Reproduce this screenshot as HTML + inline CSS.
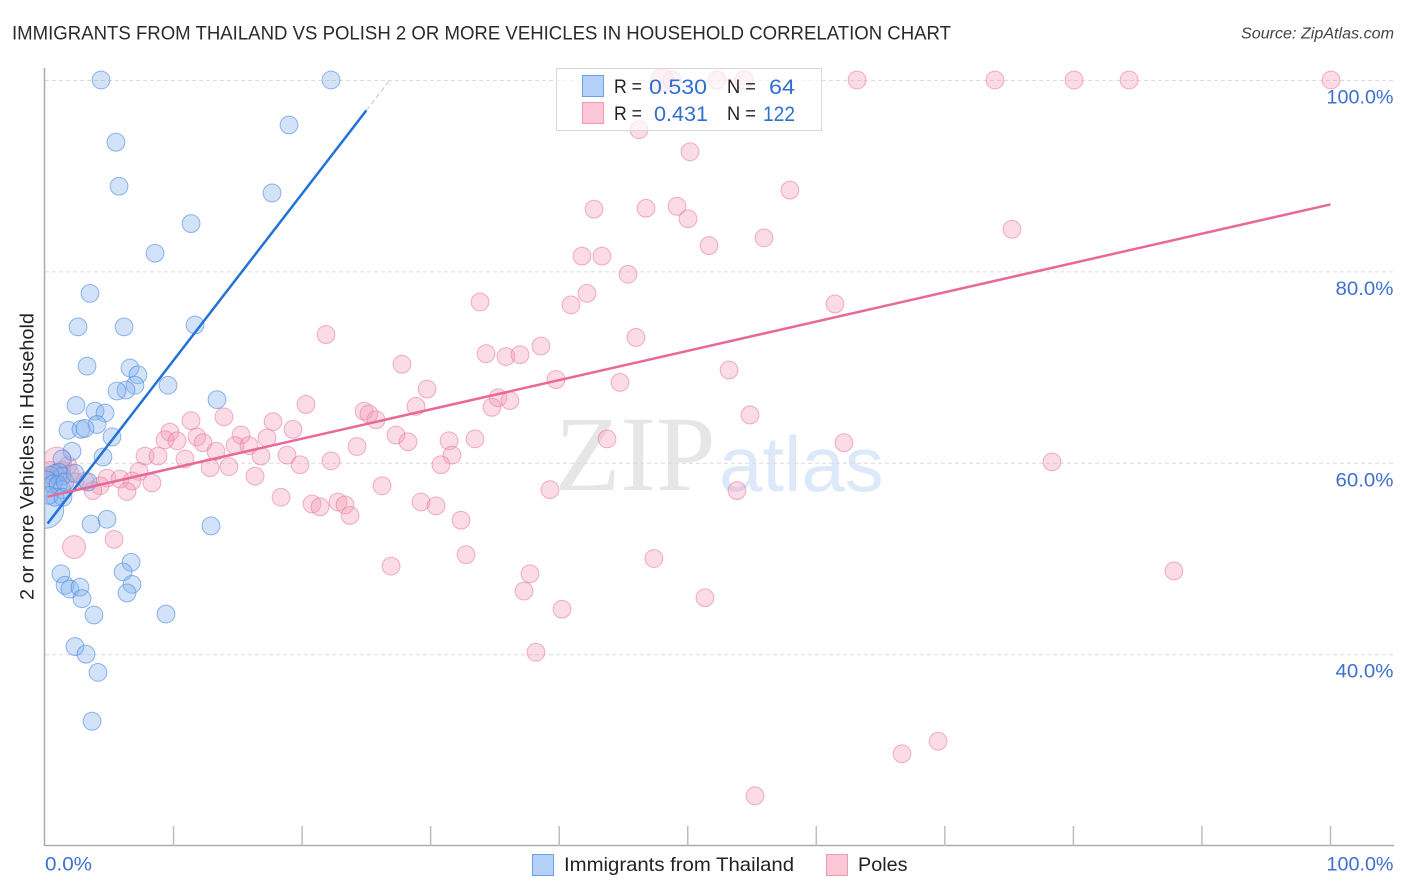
<!DOCTYPE html>
<html lang="en">
<head>
<meta charset="utf-8">
<title>Immigrants from Thailand vs Polish 2 or more Vehicles in Household Correlation Chart</title>
<style>
html,body{margin:0;padding:0;background:#fff;width:1406px;height:892px;overflow:hidden}
svg{display:block;font-family:"Liberation Sans",sans-serif}
.tick-label{fill:#3f6fd1;font-size:19px}
.legend-text{fill:#222;font-size:19px}
.legend-val{fill:#2f6fd0;font-size:21.5px}
</style>
</head>
<body>
<svg id="chart" width="1406" height="892" viewBox="0 0 1406 892" xmlns="http://www.w3.org/2000/svg">
  <defs>
    <clipPath id="plot-clip"><rect x="45" y="60" width="1360" height="786"></rect></clipPath>
  </defs>
  <text x="12" y="39.5" font-size="19.6" fill="#2a2a2a" textLength="939" lengthAdjust="spacingAndGlyphs">IMMIGRANTS FROM THAILAND VS POLISH 2 OR MORE VEHICLES IN HOUSEHOLD CORRELATION CHART</text>
  <text x="1394" y="38.5" font-size="15.5" font-style="italic" fill="#444" text-anchor="end" textLength="153" lengthAdjust="spacingAndGlyphs">Source: ZipAtlas.com</text>
  <g>
    <text x="555" y="490" font-family="'Liberation Serif',serif" font-size="107" fill="#e6e6e6">ZIP</text>
    <text x="719" y="491" font-size="78" fill="#dde9f9">atlas</text>
  </g>
  <g id="grid"></g>
  <g id="axes"></g>
  <g id="pink-points" clip-path="url(#plot-clip)"></g>
  <g id="blue-points" clip-path="url(#plot-clip)"></g>
  <g id="trend-lines"></g>
  <text transform="translate(33.5,456.5) rotate(-90)" text-anchor="middle" font-size="19" fill="#222" textLength="287" lengthAdjust="spacingAndGlyphs">2 or more Vehicles in Household</text>
  <g id="tick-labels"></g>
  <g>
    <rect x="556.5" y="68.5" width="265" height="62" fill="#fff" fill-opacity="0.68" stroke="#d8d8d8" stroke-width="1"></rect>
    <rect x="582.5" y="75.5" width="21" height="21" fill="#b5d0f6" stroke="#6ea0e6" stroke-width="1"></rect>
    <rect x="582.5" y="102.5" width="21" height="21" fill="#fbc6d6" stroke="#f09ab6" stroke-width="1"></rect>
    <text class="legend-text" x="614" y="93" textLength="28" lengthAdjust="spacingAndGlyphs">R =</text>
    <text class="legend-val" x="649" y="94" textLength="58" lengthAdjust="spacingAndGlyphs">0.530</text>
    <text class="legend-text" x="727" y="93" textLength="29" lengthAdjust="spacingAndGlyphs">N =</text>
    <text class="legend-val" x="769" y="94" textLength="26" lengthAdjust="spacingAndGlyphs">64</text>
    <text class="legend-text" x="614" y="120" textLength="28" lengthAdjust="spacingAndGlyphs">R =</text>
    <text class="legend-val" x="654" y="121" textLength="54" lengthAdjust="spacingAndGlyphs">0.431</text>
    <text class="legend-text" x="727" y="120" textLength="29" lengthAdjust="spacingAndGlyphs">N =</text>
    <text class="legend-val" x="763" y="121" textLength="32" lengthAdjust="spacingAndGlyphs">122</text>
  </g>
  <g>
    <rect x="532.5" y="854.5" width="21" height="21" fill="#b5d0f6" stroke="#6ea0e6" stroke-width="1"></rect>
    <text x="564" y="871" font-size="19.8" fill="#222" textLength="230" lengthAdjust="spacingAndGlyphs">Immigrants from Thailand</text>
    <rect x="826.5" y="854.5" width="21" height="21" fill="#fbc6d6" stroke="#f09ab6" stroke-width="1"></rect>
    <text x="858" y="871" font-size="19.8" fill="#222">Poles</text>
  </g>
</svg>
<script>
// ---- chart data (percent values) ----
const blueX = [4.36,22.25,18.98,5.52,5.76,17.66,11.36,8.56,3.5,2.57,6.15,11.67,3.27,6.61,7.23,7.0,6.3,5.6,9.57,13.38,2.41,3.89,4.67,4.05,1.79,2.8,3.11,5.21,2.1,4.51,1.32,3.58,4.82,12.91,6.69,6.07,1.24,1.56,1.94,2.72,6.77,6.38,2.88,3.81,9.41,2.33,3.19,4.12,3.66,0.0,0.78,1.09,1.32,0.39,0.16,0.62,1.01,1.32,0.78,1.56,3.35,0.31,1.4,2.33];
const blueY = [100,100,95.3,93.5,88.9,88.2,85.0,81.9,77.7,74.2,74.2,74.4,70.1,69.9,69.2,68.1,67.6,67.5,68.1,66.6,66.0,65.4,65.2,64.0,63.4,63.5,63.6,62.7,61.2,60.6,60.4,53.6,54.1,53.4,49.6,48.6,48.4,47.2,46.8,47.0,47.3,46.4,45.8,44.1,44.2,40.8,40.0,38.1,33.0,55.1,58.9,59.0,58.6,58.7,58.2,57.8,57.7,57.2,56.4,58.0,58.0,56.6,56.4,58.9];
const blueWeight = [1,1,1,1,1,1,1,1,1,1,1,1,1,1,1,1,1,1,1,1,1,1,1,1,1,1,1,1,1,1,1,1,1,1,1,1,1,1,1,1,1,1,1,1,1,1,1,1,1,4.4,1,1,1,1,1,1,1,1,1,1,1,1,1,1];
const pinkX = [48.0,48.77,52.27,54.38,63.17,73.9,80.05,84.33,100.04,46.21,50.18,57.95,42.71,46.75,49.16,50.02,75.22,55.93,51.65,41.77,43.33,45.35,42.16,40.92,33.84,61.45,21.86,45.97,38.58,34.31,35.86,36.95,27.77,53.21,39.75,44.73,29.72,35.24,36.17,34.77,28.86,20.3,13.92,11.36,24.82,25.2,25.75,54.84,9.72,9.33,19.29,17.74,27.3,28.24,33.45,31.43,43.72,62.15,11.82,12.29,10.27,15.25,14.78,17.27,15.87,13.3,7.78,8.79,10.89,16.8,18.83,22.25,19.84,24.27,31.66,30.8,78.33,7.31,12.84,14.31,16.34,4.82,5.83,6.77,4.28,3.11,3.73,6.38,8.32,26.22,18.36,39.28,53.83,20.77,21.39,22.79,23.34,23.73,29.25,30.42,32.36,5.37,2.26,32.75,47.37,26.92,87.82,37.73,37.26,40.22,51.34,38.19,69.47,66.67,55.23,0.93,0.39,1.32,1.94,0.78,0.23,2.33,1.79];
const pinkY = [100,100,100,100,100,100,100,100,100,94.8,92.5,88.5,86.5,86.6,86.8,85.5,84.4,83.5,82.7,81.6,81.6,79.7,77.7,76.5,76.8,76.6,73.4,73.1,72.2,71.4,71.1,71.3,70.3,69.7,68.7,68.4,67.7,66.8,66.5,65.8,65.9,66.1,64.8,64.4,65.4,65.1,64.5,65.0,63.2,62.4,63.5,64.3,62.9,62.2,62.5,62.3,62.5,62.1,62.7,62.1,62.3,62.9,61.8,62.6,61.8,61.2,60.7,60.7,60.4,60.7,60.8,60.2,59.8,61.7,60.8,59.8,60.1,59.1,59.5,59.6,58.6,58.4,58.3,58.1,57.6,58.1,57.1,57.0,57.9,57.6,56.4,57.2,57.1,55.7,55.4,55.9,55.6,54.5,55.9,55.5,54.0,52.0,51.2,50.4,50.0,49.2,48.7,48.4,46.6,44.7,45.9,40.2,30.9,29.6,25.2,60.1,59.2,59.2,58.9,58.2,58.4,58.0,59.7];
const pinkWeight = [1.6,1,1,1,1,1,1,1,1,1,1,1,1,1,1,1,1,1,1,1,1,1,1,1,1,1,1,1,1,1,1,1,1,1,1,1,1,1,1,1,1,1,1,1,1,1,1,1,1,1,1,1,1,1,1,1,1,1,1,1,1,1,1,1,1,1,1,1,1,1,1,1,1,1,1,1,1,1,1,1,1,1,1,1,1,1,1,1,1,1,1,1,1,1,1,1,1,1,1,1,1,1,1.65,1,1,1,1,1,1,1,1,1,1,1,1,2.7,1,1,1,1,1,1,1];
const blueTrendIntercept = 53.3;
const blueTrendSlope = 1.741;
const blueTrendSolidEnd = 25;
const blueTrendDashEnd = 26.85;
const pinkTrendIntercept = 56.4;
const pinkTrendSlope = 0.306;
const yTicks = [100,80,60,40];
const xTicks = [0,10,20,30,40,50,60,70,80,90,100];
const yTickLabels = ["100.0%","80.0%","60.0%","40.0%"];
const xEdgeTicks = [0,100];
const xEdgeLabels = ["0.0%","100.0%"];

// ---- axis functions ----
function xScale(v){ return 45 + v * 12.855; }
function yScale(v){ return 80 + (100 - v) * 9.57; }

const NS = 'http://www.w3.org/2000/svg';
function make(tag, attrs, parent){
  const el = document.createElementNS(NS, tag);
  for (const k in attrs) el.setAttribute(k, attrs[k]);
  parent.appendChild(el);
  return el;
}

// gridlines
const gridG = document.getElementById('grid');
yTicks.forEach(function(t){
  const line = make('line',{x1:45,x2:1394,y1:yScale(t)+0.5,y2:yScale(t)+0.5,stroke:'#dcdcdc','stroke-width':1,'stroke-dasharray':'4 3'},gridG);
  
  
});

// axes
const axesG = document.getElementById('axes');
const yAxisLine = make('line',{x1:44.5,x2:44.5,y1:68,y2:846,stroke:'#aaaaaa','stroke-width':1.5},axesG);


const xAxisLine = make('line',{x1:44,x2:1394,y1:845.5,y2:845.5,stroke:'#aaaaaa','stroke-width':1.5},axesG);


xTicks.slice(1).forEach(function(t){
  const tick = make('line',{x1:xScale(t),x2:xScale(t),y1:826,y2:846,stroke:'#bdbdbd','stroke-width':1.5},axesG);
  
  
});

// points
const pinkG = document.getElementById('pink-points');
pinkX.forEach(function(v,i){
  const c = make('circle',{cx:xScale(v),cy:yScale(pinkY[i]),r:8.9*Math.sqrt(pinkWeight[i]),fill:'#f49ab6','fill-opacity':0.36,stroke:'#e67f9f','stroke-opacity':0.6,'stroke-width':1},pinkG);
  
  
});
const blueG = document.getElementById('blue-points');
blueX.forEach(function(v,i){
  const c = make('circle',{cx:xScale(v),cy:yScale(blueY[i]),r:8.9*Math.sqrt(blueWeight[i]),fill:'#86b3ee','fill-opacity':0.38,stroke:'#4d88dc','stroke-opacity':0.6,'stroke-width':1},blueG);
  
  
});

// trend lines
const lineG = document.getElementById('trend-lines');
function blueAt(x){ return blueTrendIntercept + blueTrendSlope * x; }
function pinkAt(x){ return pinkTrendIntercept + pinkTrendSlope * x; }
const blueSolid = make('line',{x1:xScale(0.2),y1:yScale(blueAt(0.2)),x2:xScale(blueTrendSolidEnd),y2:yScale(blueAt(blueTrendSolidEnd)),stroke:'#2272d8','stroke-width':2.5},lineG);


const blueDash = make('line',{x1:xScale(blueTrendSolidEnd),y1:yScale(blueAt(blueTrendSolidEnd)),x2:xScale(blueTrendDashEnd),y2:yScale(blueAt(blueTrendDashEnd)),stroke:'#bbbbbb','stroke-width':0.8,'stroke-dasharray':'5 3'},lineG);


const pinkLine = make('line',{x1:xScale(0.2),y1:yScale(pinkAt(0.2)),x2:xScale(100),y2:yScale(pinkAt(100)),stroke:'#e8689a','stroke-width':2.5},lineG);



// tick labels
const labelsG = document.getElementById('tick-labels');
yTicks.forEach(function(t,i){
  const el = make('text',{x:1393.5,y:yScale(t)+23.5,'text-anchor':'end','class':'tick-label',textLength:i===0?67:58,lengthAdjust:'spacingAndGlyphs'},labelsG);
  el.textContent = yTickLabels[i];
  
  
});
xEdgeTicks.forEach(function(t,i){
  const el = make('text',{x:i===0?xScale(t):1393.5,y:870.5,'text-anchor':i===0?'start':'end','class':'tick-label',textLength:i===0?47:67,lengthAdjust:'spacingAndGlyphs'},labelsG);
  el.textContent = xEdgeLabels[i];
  
  
});
</script>
</body>
</html>
